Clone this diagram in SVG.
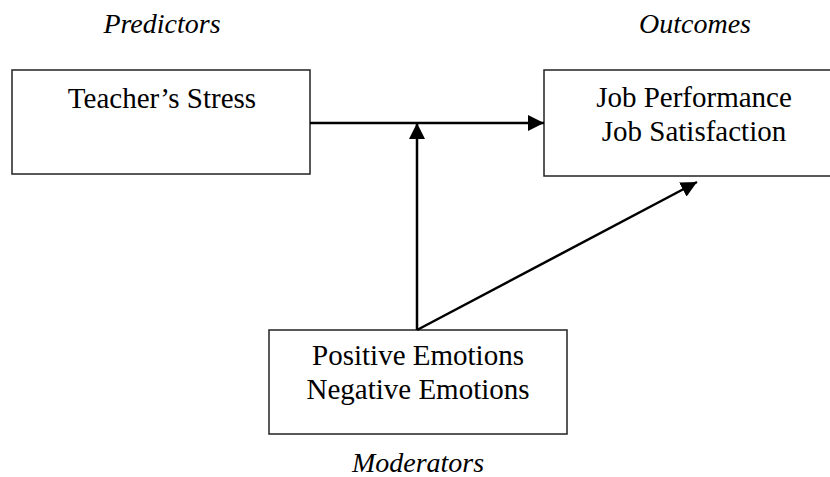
<svg xmlns="http://www.w3.org/2000/svg" width="830" height="477" viewBox="0 0 830 477">
<defs>
<style>
.box{fill:#fff;stroke:#222;stroke-width:1.5}
.lbl{font-family:"Liberation Serif","Times New Roman",serif;font-size:29px;fill:#000;text-anchor:middle}
.cap{font-family:"Liberation Serif","Times New Roman",serif;font-size:28px;font-style:italic;fill:#000;text-anchor:middle}
.conn{stroke:#000;stroke-width:2.5;fill:none}
</style>
<marker id="ah" markerWidth="16" markerHeight="16" viewBox="0 0 16 16" refX="16" refY="8" orient="auto" markerUnits="userSpaceOnUse">
<path d="M0,0 L16,8 L0,16 Z" fill="#000"/>
</marker>
</defs>
<rect width="830" height="477" fill="#fff"/>
<text class="cap" x="162" y="33">Predictors</text>
<text class="cap" x="695" y="33">Outcomes</text>
<text class="cap" x="418" y="472">Moderators</text>
<g id="stress">
<rect class="box" x="12" y="70" width="298" height="104"/>
<text class="lbl" x="162" y="108">Teacher’s Stress</text>
</g>
<g id="outcomes">
<rect class="box" x="544" y="70" width="290" height="106"/>
<text class="lbl" x="694" y="107">Job Performance</text>
<text class="lbl" x="694" y="141">Job Satisfaction</text>
</g>
<g id="moderators">
<rect class="box" x="269" y="330" width="298" height="104"/>
<text class="lbl" x="418" y="365">Positive Emotions</text>
<text class="lbl" x="418" y="399">Negative Emotions</text>
</g>
<g id="connectors">
<line class="conn" x1="310" y1="123" x2="544" y2="123" marker-end="url(#ah)"/>
<line class="conn" x1="417" y1="330" x2="417" y2="123" marker-end="url(#ah)"/>
<line class="conn" x1="417" y1="330" x2="697" y2="182" marker-end="url(#ah)"/>
</g>
</svg>
